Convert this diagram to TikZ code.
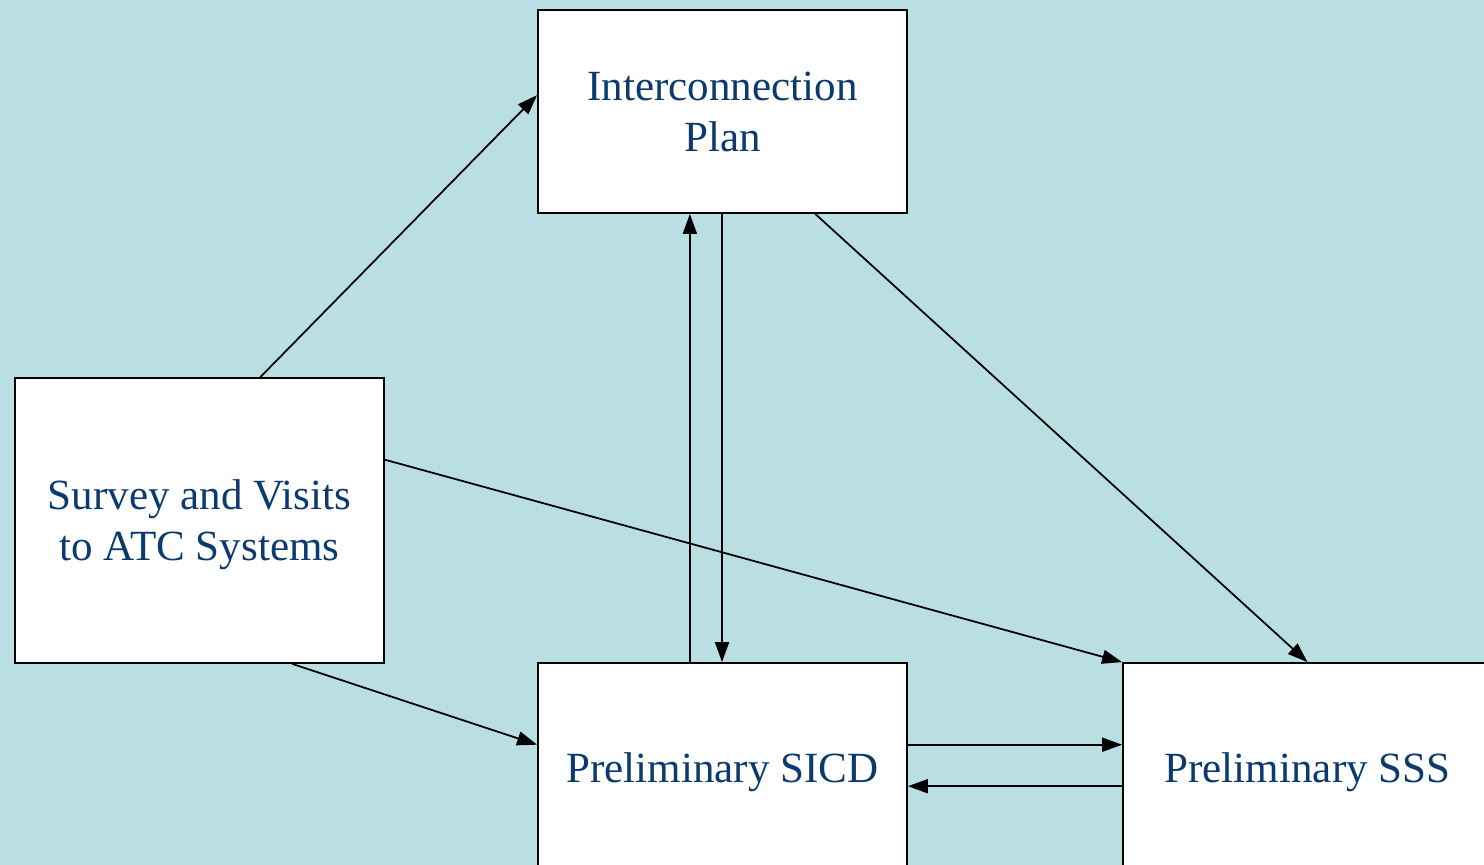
\documentclass[tikz,border=0pt]{standalone}
\usepackage{fontspec}
\setmainfont{Liberation Serif}
\usepackage{xcolor}
\usetikzlibrary{positioning, arrows.meta, calc}

\definecolor{bgteal}{HTML}{BADFE2}
\definecolor{boxtext}{HTML}{0B3A6E}
% stage text, set a little below the middle of its box
\newcommand{\stagetext}[1]{\raisebox{0pt}[\dimexpr\height+5pt\relax][\depth]{\begin{tabular}{@{}c@{}}#1\end{tabular}}}

\begin{document}
\begin{tikzpicture}[
  x=0.02cm, y=-0.02cm,
  >={Triangle[length=0.4cm, width=0.28cm]},
  every node/.style={font=\fontsize{24.5}{29}\selectfont},
  stagebox/.style={draw=black, line width=1pt, fill=white, text=boxtext,
    minimum width=369*0.02cm, inner sep=0pt},
  flow/.style={->, line width=1pt}
]
% Background
\fill[bgteal] (0,0) rectangle (1484,865);
\useasboundingbox (0,0) rectangle (1484,865);
\clip (0,0) rectangle (1484,865);

% Stages
\node[stagebox, minimum height=203*0.02cm] (plan) at (722.5,111.5) {\stagetext{Interconnection\\Plan}};
\node[stagebox, minimum height=285*0.02cm] (survey) at (199.5,520.5) {\stagetext{Survey and Visits\\to ATC Systems}};
\node[stagebox, minimum height=210*0.02cm] (sicd) at (722.5,768) {\stagetext{Preliminary SICD}};
\node[stagebox, minimum height=210*0.02cm] (sss) at (1307.5,768) {\stagetext{Preliminary SSS}};

% Points along the box edges
\coordinate (surveyTop) at ($(survey.north west)!0.664!(survey.north east)$);
\coordinate (surveyRight) at ($(survey.north east)!0.288!(survey.south east)$);
\coordinate (surveyBottom) at ($(survey.south west)!0.75!(survey.south east)$);
\coordinate (planLeft) at ($(plan.north west)!0.42!(plan.south west)$);
\coordinate (planDown) at ($(plan.south)+(-0.5,0)$);
\coordinate (planBottom) at ($(plan.south west)!0.75!(plan.south east)$);
\coordinate (sicdLeft) at ($(sicd.north west)!0.39!(sicd.south west)$);
\coordinate (sicdUp) at ($(sicd.north west)!0.412!(sicd.north east)$);
\coordinate (sicdOut) at ($(sicd.north east)!0.39!(sicd.south east)$);
\coordinate (sssBack) at ($(sss.north west)!0.586!(sss.south west)$);

% Flows
\draw[flow] (surveyTop) -- (planLeft);
\draw[flow] (surveyRight) -- (sss.north west);
\draw[flow] (surveyBottom) -- (sicdLeft);
\draw[flow] (sicdUp) -- (sicdUp |- plan.south);
\draw[flow] (planDown) -- (planDown |- sicd.north);
\draw[flow] (planBottom) -- (sss.north);
\draw[flow] (sicdOut) -- (sicdOut -| sss.west);
\draw[flow] (sssBack) -- (sssBack -| sicd.east);

\end{tikzpicture}
\end{document}
